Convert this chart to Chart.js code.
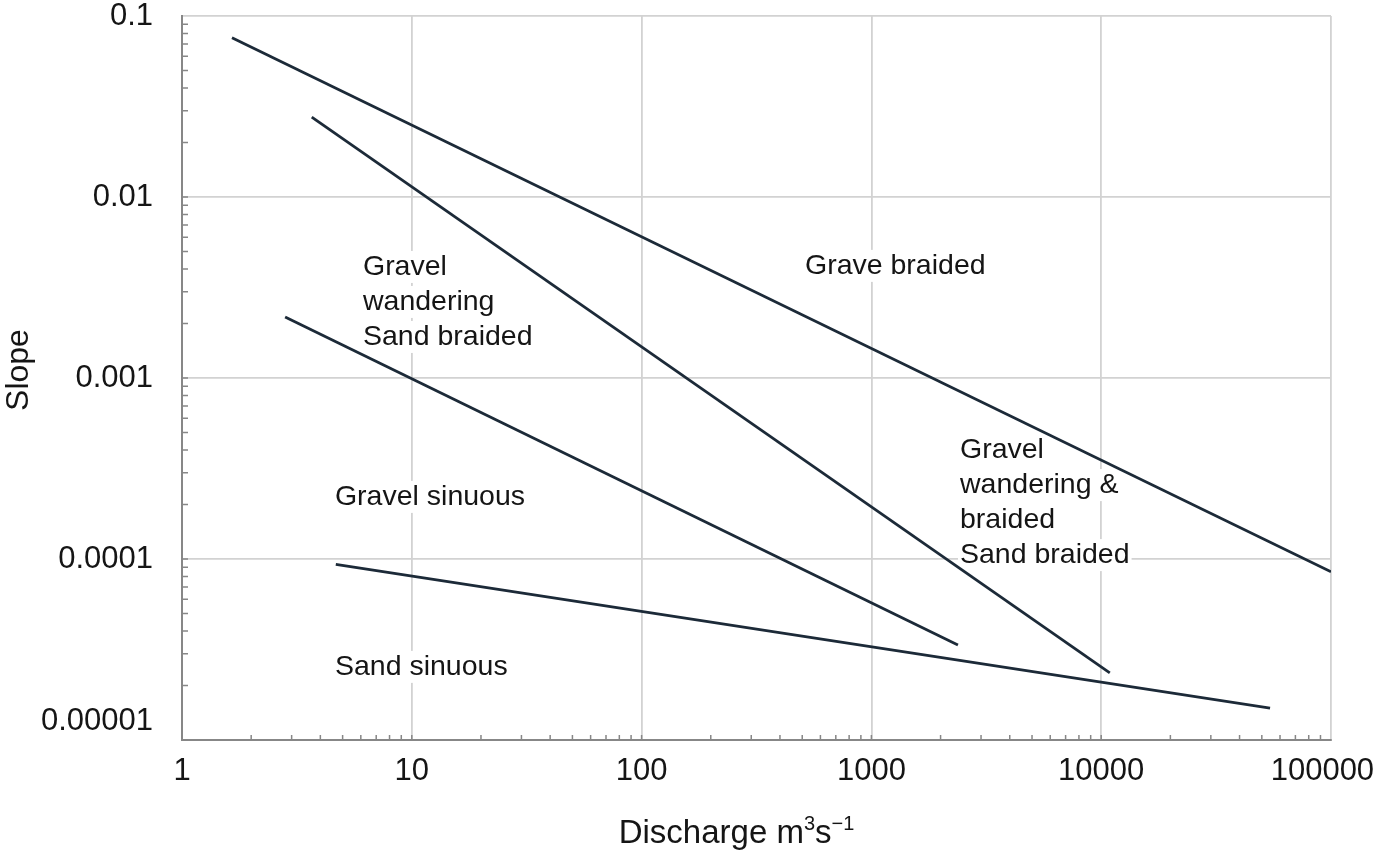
<!DOCTYPE html>
<html>
<head>
<meta charset="utf-8">
<script src="https://cdn.jsdelivr.net/npm/chart.js@4/dist/chart.umd.min.js"></script>
<style>
  html, body { margin: 0; padding: 0; background: #fff; }
  #wrap { width: 1379px; height: 850px; position: relative; }
</style>
</head>
<body>
<div id="wrap"><canvas id="chart"></canvas></div>
<script>
// --- axis ticks ---
const xTickValues = [1, 10, 100, 1000, 10000, 100000];
const xTickLabels = ['1', '10', '100', '1000', '10000', '100000'];
const yTickValues = [0.00001, 0.0001, 0.001, 0.01, 0.1];
const yTickLabels = ['0.00001', '0.0001', '0.001', '0.01', '0.1'];

// --- boundary lines (end points) ---
const braidedX = [1.65, 100000];
const braidedY = [0.0759, 0.000085];
const wanderingX = [3.67, 10900];
const wanderingY = [0.0276, 0.0000235];
const sinuousX = [2.81, 2380];
const sinuousY = [0.00217, 0.0000335];
const sandX = [4.67, 54300];
const sandY = [0.0000935, 0.000015];

// --- region labels (left edge / first baseline, in data units) ---
const noteText = [
    ['Grave braided'],
    ['Gravel', 'wandering', 'Sand braided'],
    ['Gravel sinuous'],
    ['Gravel', 'wandering &', 'braided', 'Sand braided'],
    ['Sand sinuous']
];
const noteX = [514, 6.13, 4.63, 2430, 4.63];
const noteY = [0.00376, 0.00371, 0.000199, 0.000361, 0.0000229];

const FONT = '"Liberation Sans", Arial, Helvetica, sans-serif';
const INK = '#151515';
const LINE = '#1c2a38';
const GRID = '#d2d2d2';
const AXIS = '#878787';

const toPoints = (xs, ys) => xs.map((v, i) => ({ x: v, y: ys[i] }));

const lineSet = (xs, ys) => ({
    data: toPoints(xs, ys),
    showLine: true,
    borderColor: LINE,
    borderWidth: 2.8,
    pointRadius: 0,
    fill: false
});

// white boxes + text for the region names, under the lines
const notesPlugin = {
    id: 'notes',
    beforeDatasetsDraw(chart) {
        const { ctx, scales: { x, y } } = chart;
        ctx.save();
        ctx.font = '28.5px ' + FONT;
        ctx.textBaseline = 'alphabetic';
        const items = [];
        noteText.forEach((lines, i) => {
            const px = x.getPixelForValue(noteX[i]);
            let py = y.getPixelForValue(noteY[i]);
            lines.forEach(line => {
                items.push({ line, px, py, w: ctx.measureText(line).width });
                py += 35;
            });
        });
        ctx.fillStyle = '#fff';
        items.forEach(it => ctx.fillRect(it.px - 2, it.py - 24, it.w + 4, 32));
        ctx.fillStyle = INK;
        items.forEach(it => ctx.fillText(it.line, it.px, it.py));
        ctx.restore();
    }
};

// short inward tick marks at 1..9 of every decade
const minorTicksPlugin = {
    id: 'minorTicks',
    afterDatasetsDraw(chart) {
        const { ctx, chartArea: a, scales: { x, y } } = chart;
        ctx.save();
        ctx.strokeStyle = AXIS;
        ctx.lineWidth = 1.5;
        ctx.beginPath();
        for (let k = 0; k < 5; k++) {
            for (let m = 1; m < 10; m++) {
                const px = x.getPixelForValue(m * Math.pow(10, k));
                ctx.moveTo(px, a.bottom);
                ctx.lineTo(px, a.bottom - 5);
            }
        }
        for (let k = -5; k < -1; k++) {
            for (let m = 1; m < 10; m++) {
                const py = y.getPixelForValue(m * Math.pow(10, k));
                ctx.moveTo(a.left, py);
                ctx.lineTo(a.left + 6, py);
            }
        }
        ctx.stroke();
        ctx.restore();
    }
};

// axis titles, x one has superscripts
const titlesPlugin = {
    id: 'titles',
    afterDraw(chart) {
        const { ctx, chartArea: a } = chart;
        ctx.save();
        ctx.fillStyle = INK;
        ctx.textBaseline = 'alphabetic';

        const big = '33px ' + FONT;
        const small = '20px ' + FONT;
        const parts = [
            { t: 'Discharge m', f: big, dy: 0 },
            { t: '3', f: small, dy: -13 },
            { t: 's', f: big, dy: 0 },
            { t: '\u22121', f: small, dy: -13 }
        ];
        let total = 0;
        parts.forEach(p => { ctx.font = p.f; p.w = ctx.measureText(p.t).width; total += p.w; });
        let tx = (a.left + a.right) / 2 - 20 - total / 2;
        const ty = a.bottom + 103;
        parts.forEach(p => {
            ctx.font = p.f;
            ctx.fillText(p.t, tx, ty + p.dy);
            tx += p.w;
        });

        ctx.translate(28, (a.top + a.bottom) / 2 - 8);
        ctx.rotate(-Math.PI / 2);
        ctx.font = '32px ' + FONT;
        ctx.textAlign = 'center';
        ctx.fillText('Slope', 0, 0);
        ctx.restore();
    }
};

document.addEventListener('DOMContentLoaded', () => {
    const ctx = document.getElementById('chart');

    new Chart(ctx, {
        type: 'scatter',
        data: {
            datasets: [
                lineSet(braidedX, braidedY),
                lineSet(wanderingX, wanderingY),
                lineSet(sinuousX, sinuousY),
                lineSet(sandX, sandY)
            ]
        },
        options: {
            responsive: true,
            maintainAspectRatio: false,
            animation: false,
            events: [],
            layout: { padding: { left: 0, right: 48, top: 16, bottom: 0 } },
            plugins: {
                legend: { display: false },
                tooltip: { enabled: false }
            },
            scales: {
                x: {
                    type: 'logarithmic',
                    min: 1,
                    max: 100000,
                    afterBuildTicks: s => { s.ticks = xTickValues.map(v => ({ value: v })); },
                    afterFit: s => { s.height = 110; s.paddingLeft = 0; s.paddingRight = 0; },
                    ticks: {
                        autoSkip: false,
                        maxRotation: 0,
                        padding: 13,
                        color: INK,
                        font: { family: FONT, size: 31 },
                        // last label is nudged left so it stays inside the page
                        callback: (v, i) => i === xTickLabels.length - 1 ? xTickLabels[i] + '  ' : xTickLabels[i]
                    },
                    grid: {
                        drawTicks: false,
                        lineWidth: 1.8,
                        color: c => (c.tick && c.tick.value === 1) ? 'rgba(0,0,0,0)' : GRID
                    },
                    border: { color: AXIS, width: 2 }
                },
                y: {
                    type: 'logarithmic',
                    min: 0.00001,
                    max: 0.1,
                    afterBuildTicks: s => { s.ticks = yTickValues.map(v => ({ value: v })); },
                    afterFit: s => { s.width = 182; s.paddingTop = 0; s.paddingBottom = 0; },
                    ticks: {
                        autoSkip: false,
                        padding: 29,
                        color: INK,
                        font: { family: FONT, size: 31 },
                        // lowest label sits a little above its line in the original
                        callback: (v, i) => i === 0 ? [yTickLabels[i], ''] : yTickLabels[i]
                    },
                    grid: {
                        drawTicks: false,
                        lineWidth: 1.8,
                        color: c => (c.tick && c.tick.value === 0.00001) ? 'rgba(0,0,0,0)' : GRID
                    },
                    border: { color: AXIS, width: 2 }
                }
            }
        },
        plugins: [notesPlugin, minorTicksPlugin, titlesPlugin]
    });
});
</script>
</body>
</html>
